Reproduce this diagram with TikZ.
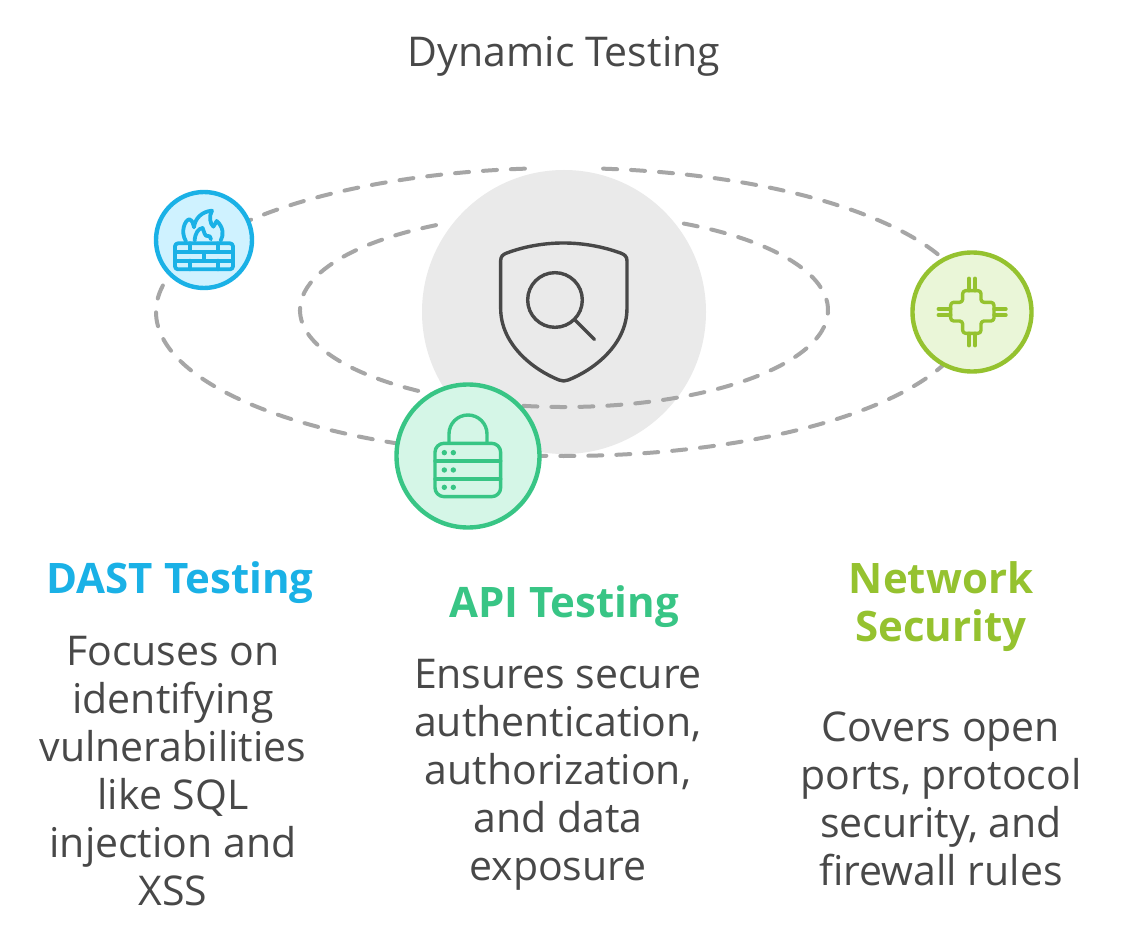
\documentclass[tikz,border=0pt]{standalone}
\usepackage{fontspec}
\setmainfont{Open Sans}[Ligatures=NoCommon]
\definecolor{ink}{HTML}{484848}
\definecolor{dashc}{HTML}{A6A6A6}
\definecolor{hubc}{HTML}{EAEAEA}
\definecolor{bluec}{HTML}{1AB1E6}
\definecolor{bluef}{HTML}{CFF2FF}
\definecolor{greenc}{HTML}{38C585}
\definecolor{greenf}{HTML}{D5F6E7}
\definecolor{limec}{HTML}{95C22F}
\definecolor{limef}{HTML}{EAF6D8}
\tikzset{
  orbit/.style={draw=dashc,line width=4pt,line cap=round,dash pattern=on 14pt off 14pt},
  disc/.style={circle,inner sep=0pt,line width=4.4pt},
  ico/.style={line width=3.4pt,line cap=round,line join=round},
  thead/.style={font=\fontsize{42}{48}\selectfont\bfseries,align=center,inner sep=0pt},
  tbody/.style={font=\fontsize{41}{48}\selectfont,text=ink,align=center,inner sep=0pt},
}
\begin{document}
\begin{tikzpicture}[x=1pt,y=-1pt]
\useasboundingbox (0,0) rectangle (1128,936);
\fill[white] (0,0) rectangle (1128,936);
\node[tbody] (title) at (564,56) {Dynamic Testing};
\node[circle,fill=hubc,minimum size=284pt,inner sep=0pt] (hub) at (564,312) {};
% orbits
\draw[orbit] (564,312) ++(95.5:408pt and 144pt) arc[start angle=95.5,end angle=260,x radius=408pt,y radius=144pt];
\draw[orbit] (564,312) ++(84.5:408pt and 144pt) arc[start angle=84.5,end angle=-97,x radius=408pt,y radius=144pt];
\draw[orbit] (564,310) ++(119:264pt and 97pt) arc[start angle=119,end angle=251,x radius=264pt,y radius=97pt];
\draw[orbit] (564,310) ++(63:264pt and 97pt) arc[start angle=63,end angle=-109,x radius=264pt,y radius=97pt];
% discs
\node[disc,draw=bluec,fill=bluef,minimum size=96pt] (dast) at (204,240) {};
\node[disc,draw=greenc,fill=greenf,minimum size=143pt] (api) at (468,456) {};
\node[disc,draw=limec,fill=limef,minimum size=119pt] (net) at (972,312) {};
% shield icon
\begin{scope}[shift={(480,230)},x=0.3333pt,y=-0.3333pt,ico,draw=ink]
\draw (62,92) .. controls (62,80) and (68,74) .. (78,70) .. controls (130,50) and (190,39) .. (250,39) .. controls (310,39) and (370,50) .. (424,70) .. controls (434,74) and (441,80) .. (441,92) -- (441,235) .. controls (441,345) and (340,420) .. (265,450) .. controls (255,454) and (247,454) .. (237,450) .. controls (162,420) and (62,345) .. (62,235) -- cycle;
\draw (225,210) circle[radius=82pt*0.3333];
\draw (285,270) -- (343,328);
\end{scope}
% firewall icon
\begin{scope}[shift={(130,170)},x=0.3333pt,y=-0.3333pt,ico,draw=bluec,line width=3.8pt]
\draw[rounded corners=3pt] (135,220) rectangle (309,298);
\draw (135,246) -- (309,246) (135,272) -- (309,272);
\draw (180,220) -- (180,246) (264,220) -- (264,246) (222,246) -- (222,272) (180,272) -- (180,298) (264,272) -- (264,298);
\draw (168,214) .. controls (150,185) and (165,150) .. (178,148) .. controls (188,150) and (190,165) .. (192,172) .. controls (195,145) and (215,125) .. (246,122) .. controls (236,140) and (240,160) .. (250,170) .. controls (255,165) and (258,155) .. (260,153) .. controls (280,170) and (282,195) .. (272,212);
\draw (194,212) .. controls (195,190) and (205,175) .. (218,174) .. controls (222,185) and (225,200) .. (232,198) .. controls (238,195) and (242,200) .. (243,208);
\end{scope}
% lock icon
\begin{scope}[shift={(380,370)},x=0.3333pt,y=-0.3333pt,ico,draw=greenc]
\draw[rounded corners=9pt] (165,220) rectangle (362,380);
\draw (165,273) -- (362,273) (165,327) -- (362,327);
\draw (207,218) -- (207,192) arc[start angle=180,end angle=0,radius=19pt] -- (321,218);
\foreach \yy in {248,300,352}{\fill[greenc] (193,\yy) circle[radius=2.7pt]; \fill[greenc] (220,\yy) circle[radius=2.7pt];}
\end{scope}
% chip icon
\begin{scope}[shift={(900,240)},x=0.3333pt,y=-0.3333pt,ico,draw=limec]
\draw[rounded corners=3pt] (188,152) -- (243,152) -- (243,187) -- (282,187) -- (282,243) -- (243,243) -- (243,280) -- (188,280) -- (188,243) -- (152,243) -- (152,187) -- (188,187) -- cycle;
\draw (207,115) -- (207,152) (225,115) -- (225,152) (207,280) -- (207,317) (225,280) -- (225,317);
\draw (115,207) -- (152,207) (115,225) -- (152,225) (282,207) -- (318,207) (282,225) -- (318,225);
\end{scope}
% texts
\node[thead,text=bluec] (t1) at (180,583) {DAST Testing};
\node[thead,text=greenc] (t2) at (564,607) {API Testing};
\node[thead,text=limec] (t3) at (941,607) {Network\\Security};
\node[tbody] (b1) at (173,771) {Focuses on\\identifying\\vulnerabilities\\like SQL\\injection and\\XSS};
\node[tbody] (b2) at (558,775) {Ensures secure\\authentication,\\authorization,\\and data\\exposure};
\node[tbody] (b3) at (941,799) {Covers open\\ports, protocol\\security, and\\firewall rules};
\end{tikzpicture}
\end{document}
